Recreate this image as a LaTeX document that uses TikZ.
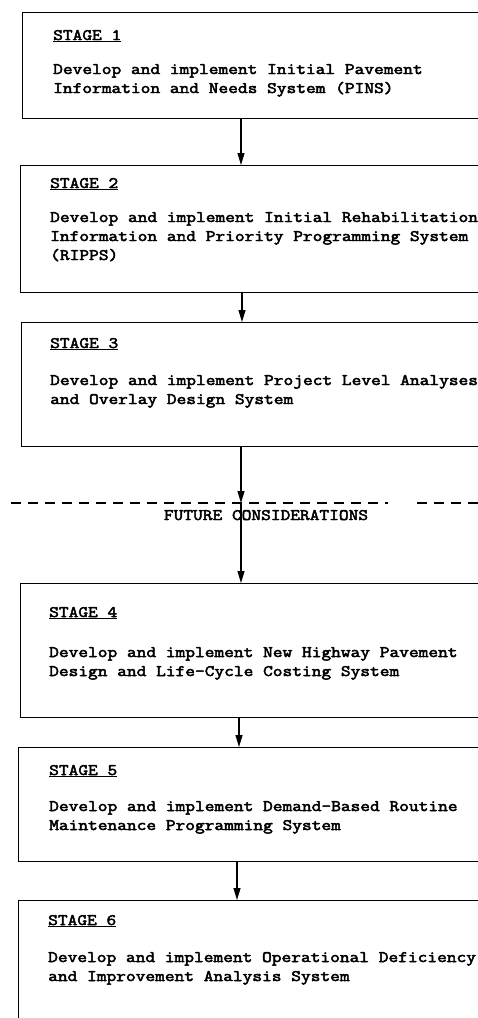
\documentclass[tikz,border=0pt]{standalone}
\usepackage{fontspec}
\setmonofont[FakeStretch=1.18, FakeBold=3]{Latin Modern Mono}
\usetikzlibrary{arrows.meta}
\begin{document}
\begin{tikzpicture}[x=1pt,y=1pt,
  stagebox/.style={draw, line width=1.2pt, rectangle, anchor=north west,
    minimum width=520pt, inner sep=0pt},
  label/.style={anchor=base west, inner sep=0pt,
    font=\ttfamily\fontsize{16}{19}\selectfont},
  body/.style={anchor=base west, inner sep=0pt,
    font=\ttfamily\fontsize{16}{19}\selectfont},
  flow/.style={line width=1.2pt, -{Triangle[length=12pt,width=7pt]}},
  divider/.style={line width=1.1pt, dash pattern=on 10pt off 7pt},
]
\clip (0,0) rectangle (478,-1018);
\fill[white] (0,0) rectangle (478,-1018);

% stage boxes
\node[stagebox, minimum height=106pt] (s1) at (22,-12) {};
\node[stagebox, minimum height=127pt] (s2) at (20,-165) {};
\node[stagebox, minimum height=124pt] (s3) at (21,-322) {};
\node[stagebox, minimum height=134pt] (s4) at (20,-583) {};
\node[stagebox, minimum height=114pt] (s5) at (18,-747) {};
\node[stagebox, minimum height=160pt] (s6) at (18,-900) {};

% stage texts
\node[label] (l1) at ([xshift=31pt,yshift=-28pt]s1.north west) {\underline{STAGE 1}};
\node[body] (t1) at ([xshift=31pt,yshift=-62pt]s1.north west)
  {\parbox[t]{440pt}{Develop and implement Initial Pavement\\Information and Needs System (PINS)}};

\node[label] (l2) at ([xshift=30pt,yshift=-23pt]s2.north west) {\underline{STAGE 2}};
\node[body] (t2) at ([xshift=30pt,yshift=-57pt]s2.north west)
  {\parbox[t]{460pt}{Develop and implement Initial Rehabilitation\\Information and Priority Programming System\\(RIPPS)}};

\node[label] (l3) at ([xshift=29pt,yshift=-26pt]s3.north west) {\underline{STAGE 3}};
\node[body] (t3) at ([xshift=29pt,yshift=-63pt]s3.north west)
  {\parbox[t]{460pt}{Develop and implement Project Level Analyses\\and Overlay Design System}};

\node[label] (l4) at ([xshift=29pt,yshift=-34pt]s4.north west) {\underline{STAGE 4}};
\node[body] (t4) at ([xshift=29pt,yshift=-74pt]s4.north west)
  {\parbox[t]{460pt}{Develop and implement New Highway Pavement\\Design and Life-Cycle Costing System}};

\node[label] (l5) at ([xshift=31pt,yshift=-28pt]s5.north west) {\underline{STAGE 5}};
\node[body] (t5) at ([xshift=31pt,yshift=-64pt]s5.north west)
  {\parbox[t]{460pt}{Develop and implement Demand-Based Routine\\Maintenance Programming System}};

\node[label] (l6) at ([xshift=30pt,yshift=-25pt]s6.north west) {\underline{STAGE 6}};
\node[body] (t6) at ([xshift=30pt,yshift=-62pt]s6.north west)
  {\parbox[t]{460pt}{Develop and implement Operational Deficiency\\and Improvement Analysis System}};

% dividing line between planned and future stages
\coordinate (fc) at (241,-503);
\draw[divider] (11,-503) -- (fc) -- (388,-503);
\draw[divider] (417,-503) -- (490,-503);
\node[label, anchor=base] (fl) at (266,-520) {FUTURE CONSIDERATIONS};

% connectors
\draw[flow] ([xshift=219pt]s1.south west) -- ([xshift=221pt]s2.north west);
\draw[flow] ([xshift=222pt]s2.south west) -- ([xshift=221pt]s3.north west);
\draw[flow] ([xshift=220pt]s3.south west) -- (fc);
\draw[flow] (fc) -- ([xshift=221pt]s4.north west);
\draw[flow] ([xshift=219pt]s4.south west) -- ([xshift=221pt]s5.north west);
\draw[flow] ([xshift=219pt]s5.south west) -- ([xshift=219pt]s6.north west);
\end{tikzpicture}
\end{document}
